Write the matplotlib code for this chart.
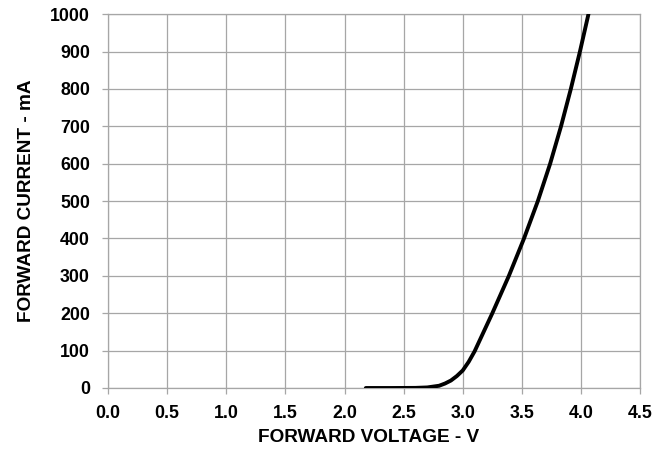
import matplotlib.pyplot as plt

plt.rcParams['font.family'] = ['Liberation Sans', 'DejaVu Sans']
plt.rcParams['font.weight'] = 'bold'

# forward voltage (V) vs forward current (mA)
voltage = [2.18, 2.4, 2.6, 2.7, 2.8, 2.85, 2.9, 2.95, 3.0, 3.05, 3.1,
           3.25, 3.39, 3.518, 3.635, 3.739, 3.831, 3.914, 3.991, 4.063]
current = [0, 0, 0.3, 1.5, 6, 12, 20, 32, 47, 70, 98,
           200, 300, 400, 500, 600, 700, 800, 900, 1000]

x_ticks = [0.0, 0.5, 1.0, 1.5, 2.0, 2.5, 3.0, 3.5, 4.0, 4.5]
y_ticks = [0, 100, 200, 300, 400, 500, 600, 700, 800, 900, 1000]

fig = plt.figure(figsize=(6.71, 4.51), dpi=100)
ax = fig.add_axes([0.161, 0.1397, 0.793, 0.829])

ax.plot(voltage, current, color='black', linewidth=2.8,
        solid_capstyle='round', solid_joinstyle='round', zorder=3)

ax.set_xlim(0, 4.5)
ax.set_ylim(0, 1000)
ax.set_xticks(x_ticks)
ax.set_xticklabels(['%.1f' % t for t in x_ticks])
ax.set_yticks(y_ticks)

ax.grid(True, color='#a6a6a6', linewidth=0.9)
for s in ax.spines.values():
    s.set_color('#a6a6a6')
    s.set_linewidth(0.9)

ax.tick_params(axis='both', direction='out', length=4, width=0.9, color='#a6a6a6',
               labelsize=12.8, labelcolor='black')
ax.tick_params(axis='x', pad=8)
ax.tick_params(axis='y', pad=9)

ax.set_xlabel('FORWARD VOLTAGE - V', fontsize=13.7, fontweight='bold', labelpad=4)
ax.xaxis.set_label_coords(0.489, -0.109)
ax.set_ylabel('FORWARD CURRENT - mA', fontsize=13.7, fontweight='bold', labelpad=11)

fig.savefig('out.png', dpi=100)
